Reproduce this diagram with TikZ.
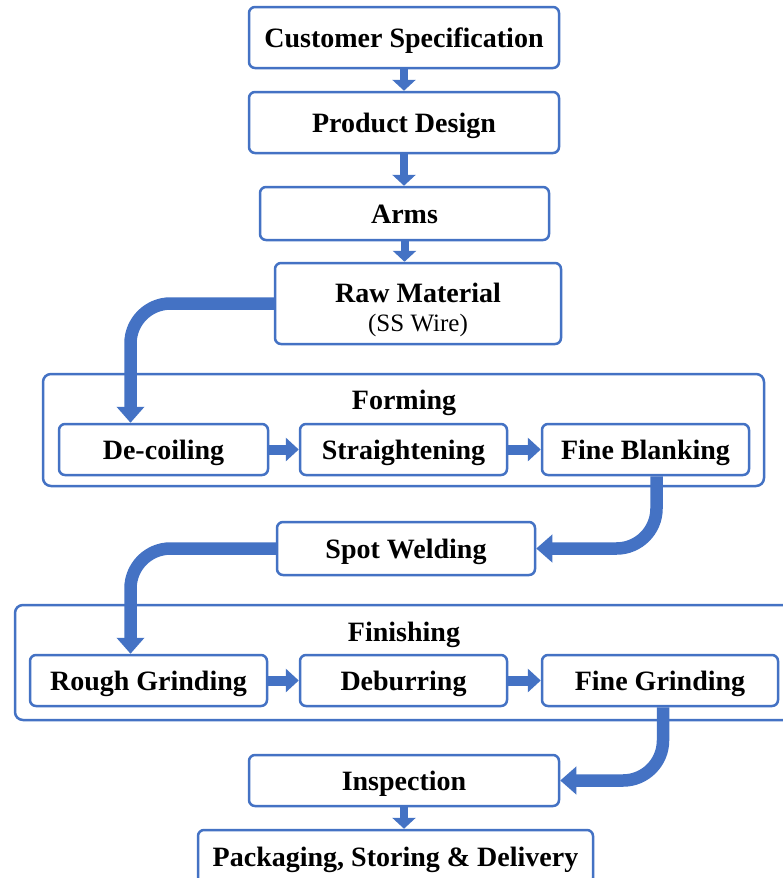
\documentclass[tikz,border=0pt]{standalone}
\usepackage{fontspec}
\setmainfont{Liberation Serif}
\usetikzlibrary{arrows.meta,positioning}
\definecolor{flowblue}{HTML}{4472C4}
\tikzset{
  basebox/.style={draw=flowblue, line width=2.5pt, rounded corners=6pt, fill=white,
    font=\fontsize{28}{31}\selectfont\bfseries, align=center, inner sep=0pt},
  box/.style={basebox, text height=19pt, text depth=0pt},
  grp/.style={draw=flowblue, line width=2.5pt, rounded corners=8pt},
  grplabel/.style={font=\fontsize{28}{31}\selectfont\bfseries, inner sep=0pt,
    text height=19pt, text depth=0pt},
  smallarrow/.style={draw=flowblue, line width=8pt, -{Triangle[width=23pt,length=11pt]}},
  sidearrow/.style={draw=flowblue, line width=10pt, -{Triangle[width=23pt,length=13pt]}},
  bigarrow/.style={draw=flowblue, line width=12.5pt, rounded corners=40pt, -{Triangle[width=27pt,length=16pt]}}
}
\begin{document}
\begin{tikzpicture}[x=1pt,y=-1pt]
\useasboundingbox (0,0) rectangle (783,878);
\clip (0,0) rectangle (783,878);
\fill[white] (0,0) rectangle (783,878);
% groups
\node[grp, minimum width=721pt, minimum height=112pt] (formgrp) at (403.5,430) {};
\node[grplabel] (formlbl) at (404,400) {Forming};
\node[grp, minimum width=785pt, minimum height=115pt] (fingrp) at (407.5,662.5) {};
\node[grplabel] (finlbl) at (404,632) {Finishing};
% boxes
\node[box, minimum width=310pt, minimum height=61pt] (cs) at (404,37.5) {Customer Specification};
\node[box, minimum width=310pt, minimum height=61pt] (pd) at (404,122.5) {Product Design};
\node[box, minimum width=289pt, minimum height=53pt] (arms) at (404.5,213.5) {Arms};
\node[basebox, minimum width=286pt, minimum height=81pt] (raw) at (418,303.5) {\rule{0pt}{33pt}Raw Material\\[-2pt]{\fontsize{25}{28}\selectfont\mdseries (SS Wire)}};
\node[box, minimum width=209pt, minimum height=51pt] (dc) at (163.5,449.5) {De-coiling};
\node[box, minimum width=207pt, minimum height=51pt] (st) at (403.5,449.5) {Straightening};
\node[box, minimum width=207pt, minimum height=51pt] (fb) at (645.5,449.5) {Fine Blanking};
\node[box, minimum width=258pt, minimum height=53pt] (sw) at (406,548.5) {Spot Welding};
\node[box, minimum width=237pt, minimum height=51pt] (rg) at (148.5,680.5) {Rough Grinding};
\node[box, minimum width=207pt, minimum height=51pt] (db) at (403.5,680.5) {Deburring};
\node[box, minimum width=236pt, minimum height=51pt] (fg) at (660,680.5) {Fine Grinding};
\node[box, minimum width=310pt, minimum height=51pt] (insp) at (404,780.5) {Inspection};
\node[box, minimum width=395pt, minimum height=54pt] (pack) at (395.5,857) {Packaging, Storing \& Delivery};
% straight arrows
\draw[smallarrow] (cs.south) -- (pd.north);
\draw[smallarrow] (pd.south) -- (arms.north -| pd.south);
\draw[smallarrow] (arms.south) -- (arms.south |- raw.north);
\draw[smallarrow] (insp.south) -- (insp.south |- pack.north);
\draw[sidearrow] (dc.east) -- (st.west);
\draw[sidearrow] (st.east) -- (fb.west);
\draw[sidearrow] (rg.east) -- (db.west);
\draw[sidearrow] (db.east) -- (fg.west);
% curved arrows
\draw[bigarrow] (raw.west) -| ([xshift=-33pt]dc.north);
\draw[bigarrow] ([xshift=11pt]fb.south) |- (sw.east);
\draw[bigarrow] (sw.west) -| ([xshift=-18pt]rg.north);
\draw[bigarrow] ([xshift=3pt]fg.south) |- (insp.east);
\end{tikzpicture}
\end{document}
